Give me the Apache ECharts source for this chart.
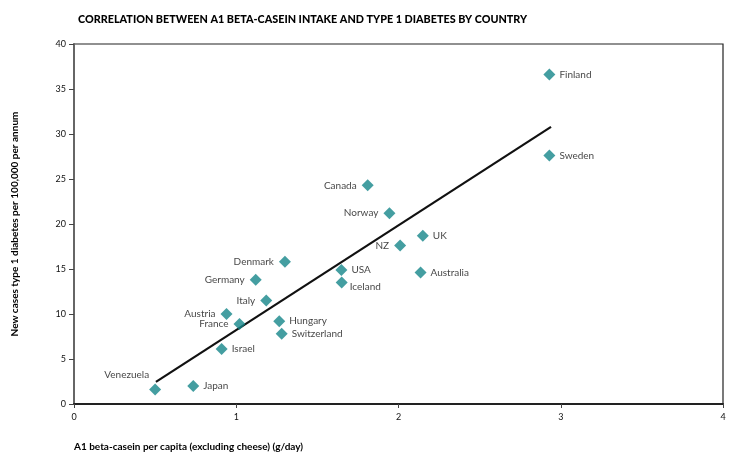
<!DOCTYPE html>
<html><head><meta charset="utf-8">
<script src="https://cdn.jsdelivr.net/npm/echarts@6/dist/echarts.min.js"></script>
<style>html,body{margin:0;padding:0;background:#fff}#c{width:731px;height:463px}</style>
</head><body><div id="c"></div>
<script>
var countries = ["Venezuela","Japan","Israel","France","Austria","Italy","Germany","Denmark","Hungary","Switzerland","USA","Iceland","Canada","Norway","NZ","UK","Australia","Finland","Sweden"];
var caseinIntake = [0.50,0.735,0.91,1.02,0.94,1.185,1.12,1.30,1.265,1.28,1.648,1.65,1.81,1.944,2.01,2.15,2.136,2.93,2.93];
var diabetesRate = [1.6,2.0,6.1,8.9,10.0,11.5,13.8,15.8,9.2,7.8,14.9,13.5,24.3,21.2,17.6,18.7,14.6,36.6,27.6];
var labelSide = ["tl","r","r","l","l","l","l","l","r","r","r","rb","l","l","l","r","r","r","r"];
var trendX = [0.505,2.94];
var trendY = [2.45,30.8];
var xTicks = [0,1,2,3,4];
var yTicks = [0,5,10,15,20,25,30,35,40];

var pts = countries.map(function(n,i){
  var side = labelSide[i];
  var lab = {show:true, formatter:n, color:'#111', fontFamily:'Lato', fontSize:10};
  if(side==='r'){lab.position='right'; lab.distance=4;}
  else if(side==='l'){lab.position='left'; lab.distance=5;}
  else if(side==='rb'){lab.position='right'; lab.distance=2; lab.offset=[0,4];}
  else if(side==='tl'){lab.position='left'; lab.distance=0; lab.offset=[0,-15];}
  return {value:[caseinIntake[i], diabetesRate[i]], label:lab};
});

var chart = echarts.init(document.getElementById('c'));
chart.setOption({
  animation:false,
  title:{text:'CORRELATION BETWEEN A1 BETA-CASEIN INTAKE AND TYPE 1 DIABETES BY COUNTRY',
    left:73, top:9, textStyle:{fontFamily:'Lato', fontWeight:900, fontSize:10.8, color:'#000'}},
  grid:{left:74, right:8, top:44, bottom:59, show:true, borderColor:'#222', borderWidth:1.2},
  xAxis:{type:'value', min:xTicks[0], max:xTicks[xTicks.length-1], interval:1,
    name:'A1 beta-casein per capita (excluding cheese) (g/day)', nameLocation:'start',
    nameGap:0, nameTextStyle:{fontFamily:'Lato', fontWeight:'bold', fontSize:10, color:'#000', align:'left', verticalAlign:'top', padding:[38,0,0,0]},
    axisLine:{lineStyle:{color:'#222', width:2}}, axisTick:{show:true, length:4, lineStyle:{color:'#444'}},
    axisLabel:{fontFamily:'Lato', fontSize:9, color:'#111', margin:9}, splitLine:{show:false}},
  yAxis:{type:'value', min:yTicks[0], max:yTicks[yTicks.length-1], interval:5,
    name:'New cases type 1 diabetes per 100,000 per annum', nameLocation:'middle', nameGap:54,
    nameTextStyle:{fontFamily:'Lato', fontWeight:'bold', fontSize:10, color:'#000'},
    axisLine:{lineStyle:{color:'#666', width:2}}, axisTick:{show:true, length:5, lineStyle:{color:'#444'}},
    axisLabel:{fontFamily:'Lato', fontSize:9, color:'#111', margin:8}, splitLine:{show:false}},
  series:[
    {type:'line', data:[[trendX[0],trendY[0]],[trendX[1],trendY[1]]], symbol:'none',
      lineStyle:{color:'#111', width:2.2}, z:1},
    {type:'scatter', data:pts, symbol:'diamond', symbolSize:[12,12],
      itemStyle:{color:'#15868a'}, z:3}
  ]
});
</script></body></html>
